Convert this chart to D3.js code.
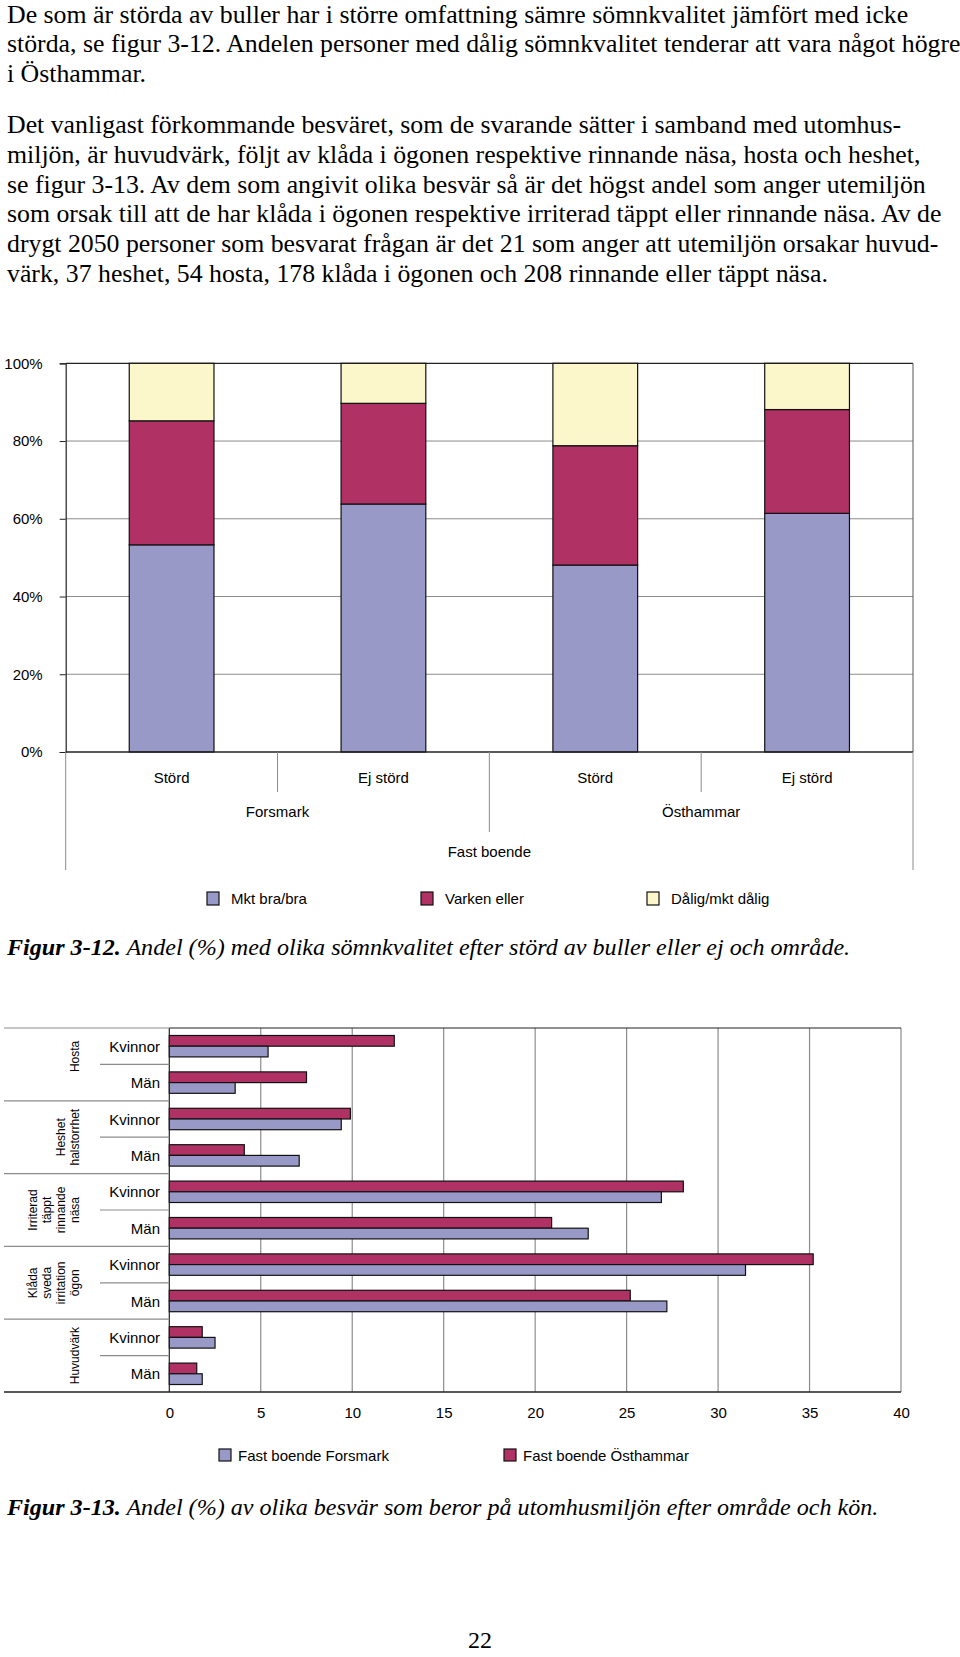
<!DOCTYPE html>
<html>
<head>
<meta charset="utf-8">
<script src="https://cdn.jsdelivr.net/npm/d3@7"></script>
<style>
  body { margin: 0; background: #fff; }
  svg { display: block; }
</style>
</head>
<body>
<div id="page"></div>
<script>
// Body text of the page
var para1 = [
  "De som är störda av buller har i större omfattning sämre sömnkvalitet jämfört med icke",
  "störda, se figur 3-12. Andelen personer med dålig sömnkvalitet tenderar att vara något högre",
  "i Östhammar."
];
var para2 = [
  "Det vanligast förkommande besväret, som de svarande sätter i samband med utomhus-",
  "miljön, är huvudvärk, följt av klåda i ögonen respektive rinnande näsa, hosta och heshet,",
  "se figur 3-13. Av dem som angivit olika besvär så är det högst andel som anger utemiljön",
  "som orsak till att de har klåda i ögonen respektive irriterad täppt eller rinnande näsa. Av de",
  "drygt 2050 personer som besvarat frågan är det 21 som anger att utemiljön orsakar huvud-",
  "värk, 37 heshet, 54 hosta, 178 klåda i ögonen och 208 rinnande eller täppt näsa."
];

// Figur 3-12 data
var sleepCategories = ["Störd", "Ej störd", "Störd", "Ej störd"];
var sleepAreas = ["Forsmark", "Östhammar"];
var sleepTop = "Fast boende";
var sleepKeys = ["Mkt bra/bra", "Varken eller", "Dålig/mkt dålig"];
var mktBra = [53.3, 63.8, 48.1, 61.4];
var varkenEller = [31.9, 25.9, 30.7, 26.7];
var daligMktDalig = [14.8, 10.3, 21.2, 11.9];
var sleepTicks = [0, 20, 40, 60, 80, 100];

// Figur 3-13 data
var problems = [
  ["Hosta"],
  ["Heshet", "halstorrhet"],
  ["Irriterad", "täppt", "rinnande", "näsa"],
  ["Klåda", "sveda", "irritation", "ögon"],
  ["Huvudvärk"]
];
var genders = ["Kvinnor", "Män"];
var seriesNames = ["Fast boende Forsmark", "Fast boende Östhammar"];
var forsmark = [5.4, 3.6, 9.4, 7.1, 26.9, 22.9, 31.5, 27.2, 2.5, 1.8];
var osthammar = [12.3, 7.5, 9.9, 4.1, 28.1, 20.9, 35.2, 25.2, 1.8, 1.5];
var problemTicks = [0, 5, 10, 15, 20, 25, 30, 35, 40];

var colBlue = "#9999c8";
var colRed = "#b03264";
var colYellow = "#fcf7cb";
var gridCol = "#8c8c8c";
var sans = "'Liberation Sans', Arial, sans-serif";
var serif = "'Liberation Serif', 'Times New Roman', serif";

var svg = d3.select("#page")
  .append("svg")
  .attr("width", 960)
  .attr("height", 1657);

svg.append("rect")
  .attr("width", 960)
  .attr("height", 1657)
  .attr("fill", "#fff");

// ---- body text ----
var textGroup = svg.append("g")
  .attr("font-family", serif)
  .attr("font-size", 25.8)
  .attr("fill", "#000");

textGroup.selectAll(".p1")
  .data(para1)
  .enter()
  .append("text")
  .attr("x", 7)
  .attr("y", (d, i) => 23 + i * 29.4)
  .text(d => d);

textGroup.selectAll(".p2")
  .data(para2)
  .enter()
  .append("text")
  .attr("x", 7)
  .attr("y", (d, i) => 133 + i * 29.8)
  .text(d => d);

// ---- Figur 3-12: stacked 100% columns ----
var c1 = { left: 65.7, right: 913, top: 363.3, bottom: 752 };

var xSleep = d3.scaleBand()
  .domain(d3.range(sleepCategories.length))
  .range([c1.left, c1.right])
  .paddingInner(0.6)
  .paddingOuter(0.3);

var ySleep = d3.scaleLinear()
  .domain([0, 100])
  .range([c1.bottom, c1.top]);

var sleepRows = sleepCategories.map(function(c, i) {
  return { "Mkt bra/bra": mktBra[i], "Varken eller": varkenEller[i], "Dålig/mkt dålig": daligMktDalig[i] };
});
var sleepStack = d3.stack().keys(sleepKeys)(sleepRows);
var sleepColor = d3.scaleOrdinal().domain(sleepKeys).range([colBlue, colRed, colYellow]);

var chart1 = svg.append("g");

// gridlines
chart1.selectAll(".grid")
  .data(sleepTicks.filter(d => d > 0 && d < 100))
  .enter()
  .append("line")
  .attr("x1", c1.left)
  .attr("x2", c1.right)
  .attr("y1", d => ySleep(d))
  .attr("y2", d => ySleep(d))
  .attr("stroke", gridCol)
  .attr("stroke-width", 1);

// frame: top black, right gray
chart1.append("line")
  .attr("x1", c1.left).attr("x2", c1.right)
  .attr("y1", ySleep(100)).attr("y2", ySleep(100))
  .attr("stroke", "#222").attr("stroke-width", 1.2);
chart1.append("line")
  .attr("x1", c1.right).attr("x2", c1.right)
  .attr("y1", ySleep(100)).attr("y2", ySleep(0))
  .attr("stroke", "#555").attr("stroke-width", 1);

// stacked bars
chart1.selectAll(".layer")
  .data(sleepStack)
  .enter()
  .append("g")
  .attr("fill", d => sleepColor(d.key))
  .selectAll("rect")
  .data(d => d)
  .enter()
  .append("rect")
  .attr("x", (d, i) => xSleep(i))
  .attr("width", xSleep.bandwidth())
  .attr("y", d => ySleep(d[1]))
  .attr("height", d => ySleep(d[0]) - ySleep(d[1]))
  .attr("stroke", "#111")
  .attr("stroke-width", 1.2);

// y axis
var leftAxis = d3.axisLeft(ySleep)
  .tickValues(sleepTicks)
  .tickFormat(d => d + "%")
  .tickSize(6)
  .tickPadding(17);

var yAxis1 = chart1.append("g")
  .attr("transform", `translate(${c1.left},0)`)
  .call(leftAxis);
yAxis1.select(".domain").attr("stroke", "#222").attr("stroke-width", 1.2);
yAxis1.selectAll(".tick line").attr("stroke", "#222");
yAxis1.selectAll("text")
  .attr("font-family", sans)
  .attr("font-size", 15)
  .attr("fill", "#000");

// x axis baseline
chart1.append("line")
  .attr("x1", c1.left).attr("x2", c1.right)
  .attr("y1", ySleep(0)).attr("y2", ySleep(0))
  .attr("stroke", "#222").attr("stroke-width", 1.5);

// multi level category labels
var step = xSleep.step();
var labelGroup = chart1.append("g")
  .attr("font-family", sans)
  .attr("font-size", 15)
  .attr("fill", "#000")
  .attr("text-anchor", "middle");

labelGroup.selectAll(".cat")
  .data(sleepCategories)
  .enter()
  .append("text")
  .attr("x", (d, i) => xSleep(i) + xSleep.bandwidth() / 2)
  .attr("y", 783)
  .text(d => d);

labelGroup.selectAll(".area")
  .data(sleepAreas)
  .enter()
  .append("text")
  .attr("x", (d, i) => c1.left + step * (2 * i + 1))
  .attr("y", 817)
  .text(d => d);

labelGroup.append("text")
  .attr("x", (c1.left + c1.right) / 2)
  .attr("y", 857)
  .text(sleepTop);

// separators between label levels
var sepGroup = chart1.append("g")
  .attr("stroke", gridCol)
  .attr("stroke-width", 1);
sepGroup.selectAll(".sep1")
  .data([1, 3])
  .enter()
  .append("line")
  .attr("x1", d => c1.left + step * d)
  .attr("x2", d => c1.left + step * d)
  .attr("y1", c1.bottom)
  .attr("y2", 792);
sepGroup.append("line")
  .attr("x1", c1.left + step * 2).attr("x2", c1.left + step * 2)
  .attr("y1", c1.bottom).attr("y2", 832);
sepGroup.selectAll(".sep3")
  .data([c1.left, c1.right])
  .enter()
  .append("line")
  .attr("x1", d => d).attr("x2", d => d)
  .attr("y1", c1.bottom).attr("y2", 870);

// legend 1
var legend1 = chart1.append("g")
  .attr("font-family", sans)
  .attr("font-size", 15);
var legend1X = [207, 421, 647];
var leg1 = legend1.selectAll(".leg")
  .data(sleepKeys)
  .enter()
  .append("g")
  .attr("transform", (d, i) => `translate(${legend1X[i]},892)`);
leg1.append("rect")
  .attr("width", 12)
  .attr("height", 13)
  .attr("fill", d => sleepColor(d))
  .attr("stroke", "#111")
  .attr("stroke-width", 1.2);
leg1.append("text")
  .attr("x", 24)
  .attr("y", 11.5)
  .text(d => d);

// caption 1
var cap1 = svg.append("text")
  .attr("x", 7)
  .attr("y", 955)
  .attr("font-family", serif)
  .attr("font-size", 24.1)
  .attr("font-style", "italic");
cap1.append("tspan").attr("font-weight", "bold").text("Figur 3-12.");
cap1.append("tspan").text(" Andel (%) med olika sömnkvalitet efter störd av buller eller ej och område.");

// ---- Figur 3-13: grouped horizontal bars ----
var c2 = { left: 169.3, right: 901, top: 1028, bottom: 1392 };

var rowKeys = [];
problems.forEach(function(p, i) {
  genders.forEach(function(g) { rowKeys.push(i + "|" + g); });
});

var yRow = d3.scaleBand()
  .domain(rowKeys)
  .range([c2.top, c2.bottom]);

var ySeries = d3.scaleBand()
  .domain(["Östhammar", "Forsmark"])
  .range([0, yRow.bandwidth()])
  .paddingOuter(0.7);

var xProb = d3.scaleLinear()
  .domain([0, 40])
  .range([c2.left, c2.right]);

var chart2 = svg.append("g");

// vertical gridlines
chart2.selectAll(".vgrid")
  .data(problemTicks.filter(d => d > 0))
  .enter()
  .append("line")
  .attr("x1", d => xProb(d))
  .attr("x2", d => xProb(d))
  .attr("y1", c2.top)
  .attr("y2", c2.bottom)
  .attr("stroke", gridCol)
  .attr("stroke-width", 1.2);

// top border
chart2.append("line")
  .attr("x1", c2.left).attr("x2", c2.right)
  .attr("y1", c2.top).attr("y2", c2.top)
  .attr("stroke", "#222").attr("stroke-width", 1.2);

// bars
var barRows = rowKeys.map(function(k, i) {
  return { key: k, Forsmark: forsmark[i], "Östhammar": osthammar[i] };
});
var barGroups = chart2.selectAll(".row")
  .data(barRows)
  .enter()
  .append("g")
  .attr("transform", d => `translate(0,${yRow(d.key)})`);

barGroups.selectAll("rect")
  .data(d => [{ s: "Östhammar", v: d["Östhammar"] }, { s: "Forsmark", v: d.Forsmark }])
  .enter()
  .append("rect")
  .attr("x", xProb(0))
  .attr("y", d => ySeries(d.s))
  .attr("width", d => xProb(d.v) - xProb(0))
  .attr("height", ySeries.bandwidth())
  .attr("fill", d => d.s === "Forsmark" ? colBlue : colRed)
  .attr("stroke", "#111")
  .attr("stroke-width", 1.2);

// left axis line
chart2.append("line")
  .attr("x1", c2.left).attr("x2", c2.left)
  .attr("y1", c2.top).attr("y2", c2.bottom)
  .attr("stroke", "#222").attr("stroke-width", 1.2);

// row labels and separators
var rowLabels = chart2.append("g")
  .attr("font-family", sans)
  .attr("font-size", 15)
  .attr("text-anchor", "end");
rowLabels.selectAll("text")
  .data(rowKeys)
  .enter()
  .append("text")
  .attr("x", 160)
  .attr("y", d => yRow(d) + yRow.bandwidth() / 2 + 5.5)
  .text(d => d.split("|")[1]);

var groupH = yRow.bandwidth() * 2;
chart2.selectAll(".gsep")
  .data(d3.range(problems.length))
  .enter()
  .append("line")
  .attr("x1", 4)
  .attr("x2", c2.left)
  .attr("y1", d => c2.top + d * groupH)
  .attr("y2", d => c2.top + d * groupH)
  .attr("stroke", gridCol)
  .attr("stroke-width", 1.2);
chart2.selectAll(".ssep")
  .data(d3.range(problems.length))
  .enter()
  .append("line")
  .attr("x1", 100)
  .attr("x2", c2.left)
  .attr("y1", d => c2.top + d * groupH + yRow.bandwidth())
  .attr("y2", d => c2.top + d * groupH + yRow.bandwidth())
  .attr("stroke", gridCol)
  .attr("stroke-width", 1.2);

// rotated group labels (single line labels sit a bit higher, as in the original)
var groupLabels = chart2.selectAll(".glabel")
  .data(problems)
  .enter()
  .append("text")
  .attr("font-family", sans)
  .attr("font-size", 12)
  .attr("text-anchor", "middle")
  .attr("transform", (d, i) => `translate(${79 - (d.length - 1) * 14},${c2.top + i * groupH + groupH / 2 - (i === 0 ? 8 : 0)}) rotate(-90)`);
groupLabels.selectAll("tspan")
  .data(d => d)
  .enter()
  .append("tspan")
  .attr("x", 0)
  .attr("y", (d, i) => i * 14)
  .text(d => d);

// bottom axis
var bottomAxis = d3.axisBottom(xProb)
  .tickValues(problemTicks)
  .tickSize(0)
  .tickPadding(15);
var xAxis2 = chart2.append("g")
  .attr("transform", `translate(0,${c2.bottom})`)
  .call(bottomAxis);
xAxis2.select(".domain").remove();
xAxis2.selectAll("text")
  .attr("font-family", sans)
  .attr("font-size", 15)
  .attr("fill", "#000");
chart2.append("line")
  .attr("x1", 4).attr("x2", c2.right)
  .attr("y1", c2.bottom).attr("y2", c2.bottom)
  .attr("stroke", "#222").attr("stroke-width", 1.5);

// legend 2
var legend2X = [219, 504];
var leg2 = chart2.selectAll(".leg2")
  .data(seriesNames)
  .enter()
  .append("g")
  .attr("transform", (d, i) => `translate(${legend2X[i]},1449)`)
  .attr("font-family", sans)
  .attr("font-size", 15);
leg2.append("rect")
  .attr("width", 12)
  .attr("height", 12)
  .attr("fill", (d, i) => i === 0 ? colBlue : colRed)
  .attr("stroke", "#111")
  .attr("stroke-width", 1.2);
leg2.append("text")
  .attr("x", 19)
  .attr("y", 11.5)
  .text(d => d);

// caption 2
var cap2 = svg.append("text")
  .attr("x", 7)
  .attr("y", 1515)
  .attr("font-family", serif)
  .attr("font-size", 24.1)
  .attr("font-style", "italic");
cap2.append("tspan").attr("font-weight", "bold").text("Figur 3-13.");
cap2.append("tspan").text(" Andel (%) av olika besvär som beror på utomhusmiljön efter område och kön.");

// page number
svg.append("text")
  .attr("x", 480)
  .attr("y", 1648)
  .attr("text-anchor", "middle")
  .attr("font-family", serif)
  .attr("font-size", 24)
  .text("22");
</script>
</body>
</html>
